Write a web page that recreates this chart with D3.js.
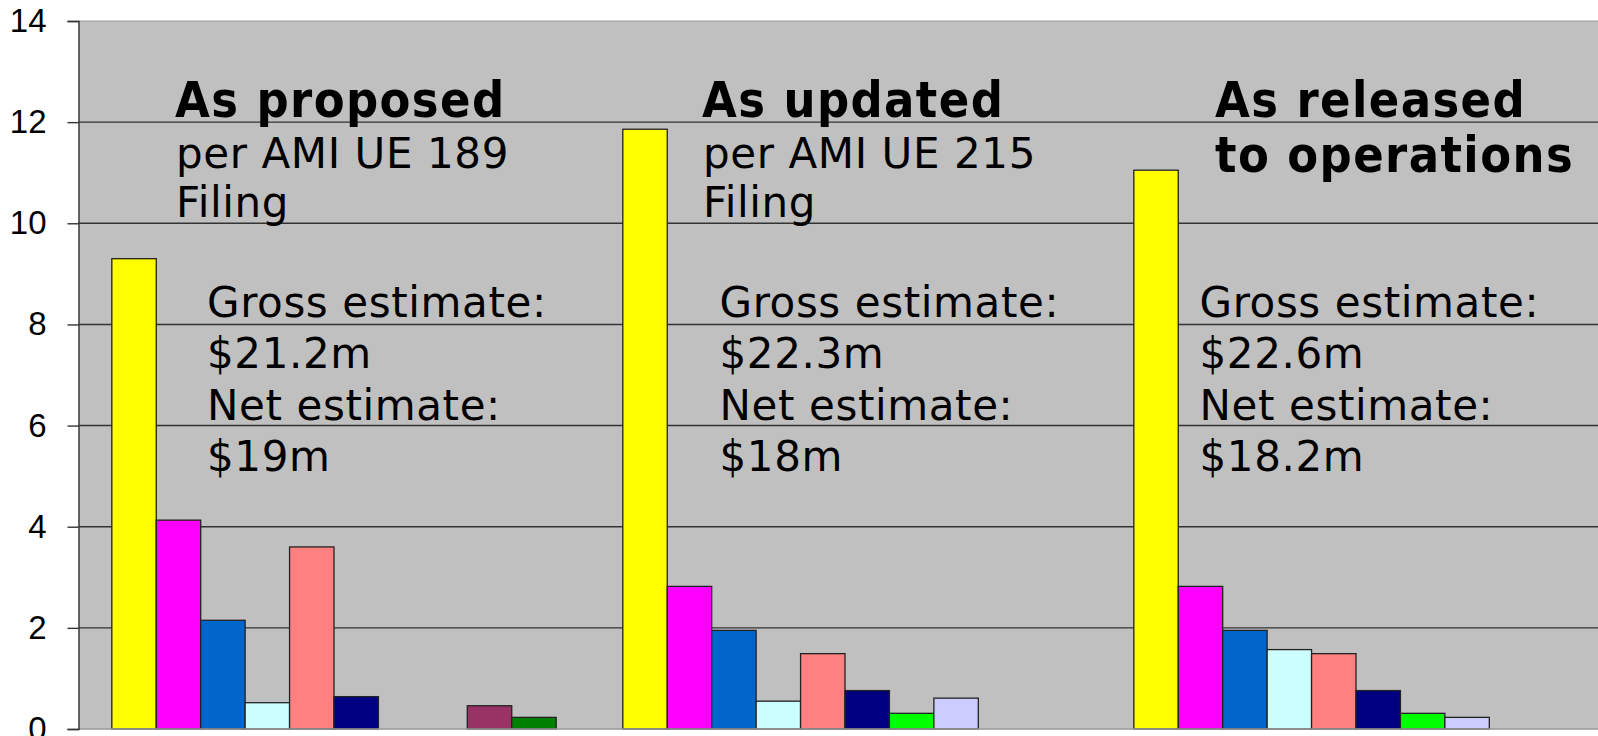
<!DOCTYPE html>
<html>
<head>
<meta charset="utf-8">
<script src="https://cdn.jsdelivr.net/npm/d3@7"></script>
<style>
  html, body { margin: 0; padding: 0; background: #fff; overflow: hidden; }
  svg { display: block; }
  .tick text { font-family: "Liberation Sans", Arial, sans-serif; }
</style>
</head>
<body>
<div id="chart"></div>
<script>
// categories (one cluster each) and the ten cost series
var groups = ["As proposed", "As updated", "As released"];
var seriesNames = ["S1", "S2", "S3", "S4", "S5", "S6", "S7", "S8", "S9", "S10"];

// values ($m)
var proposedValues = [9.3, 4.13, 2.15, 0.52, 3.6, 0.64, 0, 0, 0.46, 0.23];
var updatedValues  = [11.86, 2.82, 1.95, 0.55, 1.49, 0.76, 0.31, 0.61, 0, 0];
var releasedValues = [11.05, 2.82, 1.95, 1.57, 1.49, 0.76, 0.31, 0.23, 0, 0];

var yTicks = [0, 2, 4, 6, 8, 10, 12, 14];

// annotation texts
var titleLines = [["As proposed"], ["As updated"], ["As released", "to operations"]];
var subLines = [["per AMI UE 189", "Filing"], ["per AMI UE 215", "Filing"], []];
var grossText = ["$21.2m", "$22.3m", "$22.6m"];
var netText = ["$19m", "$18m", "$18.2m"];

var colors = ["#ffff00", "#ff00ff", "#0066cc", "#ccffff", "#ff8080",
              "#000080", "#00ff00", "#ccccff", "#993366", "#008000"];

var svgWidth = 1598;
var svgHeight = 736;
var margin = {top: 21, left: 78.5};
var width = 1533;     // plot runs past the right edge of the picture
var height = 708;

var svg = d3.select("#chart")
    .append("svg")
    .attr("width", svgWidth)
    .attr("height", svgHeight);

var chartGroup = svg.append("g")
    .attr("transform", `translate(${margin.left}, ${margin.top})`);

var allValues = [proposedValues, updatedValues, releasedValues];
var data = groups.map(function(g, i) {
    return {group: g, values: seriesNames.map(function(s, j) {
        return {series: s, value: allValues[i][j]};
    })};
});

// scales
var x0 = d3.scaleBand()
    .domain(groups)
    .range([0, width])
    .paddingInner(0.1304)
    .paddingOuter(0.0652);

var x1 = d3.scaleBand()
    .domain(seriesNames)
    .range([0, x0.bandwidth()]);

var y = d3.scaleLinear()
    .domain([0, 14])
    .range([height, 0]);

var color = d3.scaleOrdinal().domain(seriesNames).range(colors);

// plot background
chartGroup.append("rect")
    .attr("x", 0).attr("y", 0)
    .attr("width", width).attr("height", height)
    .attr("fill", "#c0c0c0");

// gridlines
chartGroup.append("g")
    .selectAll("line")
    .data(yTicks.filter(function(t) { return t > 0 && t < 14; }))
    .enter()
    .append("line")
    .attr("x1", 0).attr("x2", width)
    .attr("y1", d => y(d)).attr("y2", d => y(d))
    .attr("stroke", "#333")
    .attr("stroke-width", 1.4);

// top border
chartGroup.append("line")
    .attr("x1", 0).attr("x2", width)
    .attr("y1", y(14)).attr("y2", y(14))
    .attr("stroke", "#999").attr("stroke-width", 1.2);

// bars
var groupSel = chartGroup.selectAll(".cluster")
    .data(data)
    .enter()
    .append("g")
    .attr("class", "cluster")
    .attr("transform", d => `translate(${x0(d.group)}, 0)`);

groupSel.selectAll("rect")
    .data(d => d.values.filter(v => v.value > 0))
    .enter()
    .append("rect")
    .attr("x", d => x1(d.series))
    .attr("y", d => y(d.value))
    .attr("width", x1.bandwidth())
    .attr("height", d => y(0) - y(d.value))
    .attr("fill", d => color(d.series))
    .attr("stroke", "#222")
    .attr("stroke-width", 1.3);

// baseline
chartGroup.append("line")
    .attr("x1", 0).attr("x2", width)
    .attr("y1", y(0)).attr("y2", y(0))
    .attr("stroke", "#999").attr("stroke-width", 1.5);

// y axis
var leftAxis = d3.axisLeft(y)
    .tickValues(yTicks)
    .tickSize(11)
    .tickPadding(21)
    .tickFormat(d3.format("d"));

var yAxisG = chartGroup.append("g").call(leftAxis);
yAxisG.select(".domain").attr("stroke", "#333").attr("stroke-width", 1.4);
yAxisG.selectAll(".tick line").attr("stroke", "#333").attr("stroke-width", 1.4);
yAxisG.selectAll(".tick text")
    .attr("font-size", "33px")
    .attr("fill", "#000");

// annotations
var titleX = [96.5, 623.5, 1136.5];
var blockX = [128.5, 641, 1121];

groups.forEach(function(g, i) {
    var tx = titleX[i];
    var title = svg.append("text")
        .attr("font-family", "'DejaVu Sans Condensed', 'DejaVu Sans', Verdana, sans-serif")
        .attr("font-weight", "bold")
        .attr("font-size", "50px")
        .attr("letter-spacing", "1.4px")
        .attr("fill", "#000");
    titleLines[i].forEach(function(line, k) {
        title.append("tspan")
            .attr("x", margin.left + tx)
            .attr("y", 116.5 + k * 55)
            .text(line);
    });

    var sub = svg.append("text")
        .attr("font-family", "'DejaVu Sans', Verdana, sans-serif")
        .attr("font-size", "42px")
        .attr("letter-spacing", "0.6px")
        .attr("fill", "#000");
    subLines[i].forEach(function(line, k) {
        sub.append("tspan")
            .attr("x", margin.left + tx + 1)
            .attr("y", 167.5 + k * 49.5)
            .text(line);
    });

    var block = svg.append("text")
        .attr("font-family", "'DejaVu Sans', Verdana, sans-serif")
        .attr("font-size", "42px")
        .attr("letter-spacing", "0.6px")
        .attr("fill", "#000");
    ["Gross estimate:", grossText[i], "Net estimate:", netText[i]].forEach(function(line, k) {
        block.append("tspan")
            .attr("x", margin.left + blockX[i])
            .attr("y", 316.5 + k * 51.5)
            .text(line);
    });
});
</script>
</body>
</html>
